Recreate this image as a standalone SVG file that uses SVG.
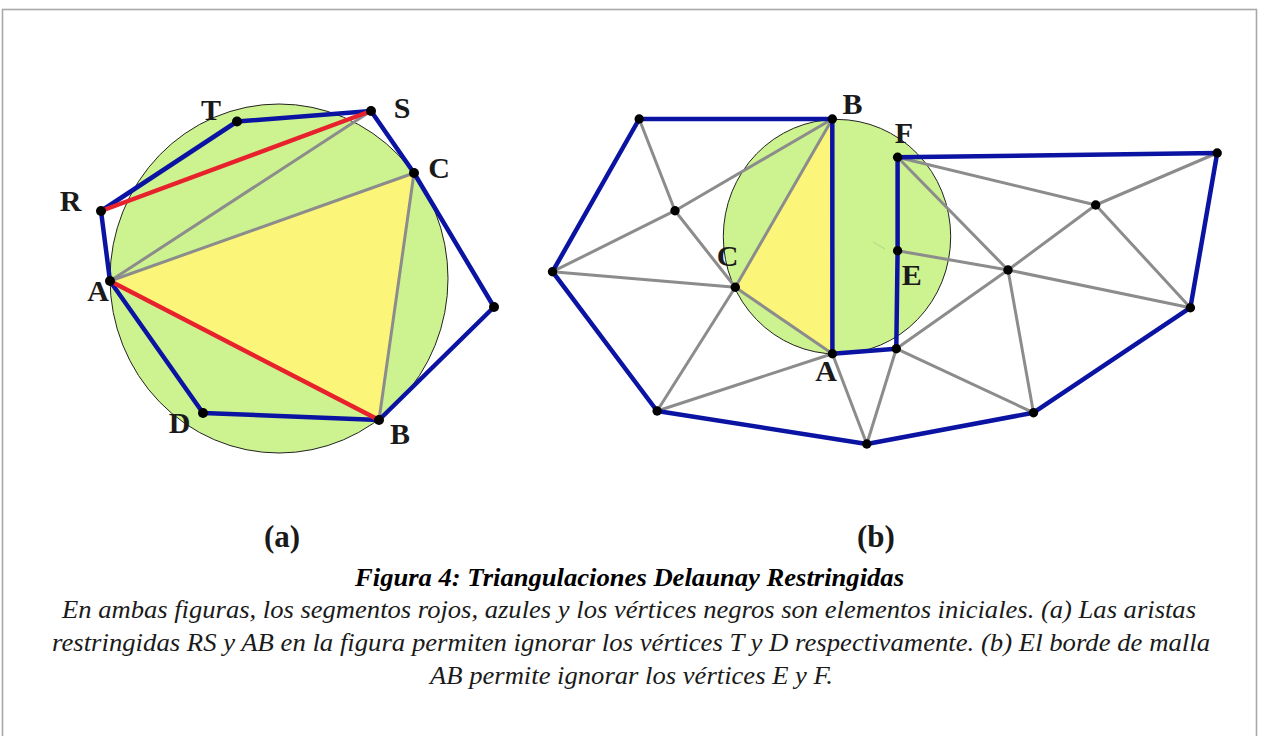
<svg xmlns="http://www.w3.org/2000/svg" width="1261" height="736" viewBox="0 0 1261 736">
<defs>
<style>
.frame{fill:#fff;stroke:#a8a8a8;stroke-width:1.6}
.disk{fill:#cdf290;stroke:#222;stroke-width:1}
.tri{fill:#fbf67a;stroke:none}
.g{stroke:#8c8c8c;stroke-width:3;fill:none;stroke-linecap:round}
.b{stroke:#0b14a2;stroke-width:4.5;fill:none;stroke-linejoin:round;stroke-linecap:round}
.r{stroke:#e8222c;stroke-width:4.5;fill:none;stroke-linecap:round}
.dot{fill:#000}
.lbl{font-family:"Liberation Serif","Times New Roman",serif;font-weight:bold;font-size:30px;fill:#1a1a1a;text-anchor:middle}
.sub{font-family:"Liberation Serif","Times New Roman",serif;font-weight:bold;font-size:31px;fill:#1a1a1a;text-anchor:middle}
.cap{font-family:"Liberation Serif","Times New Roman",serif;font-style:italic;font-size:26px;fill:#1a1a1a;text-anchor:middle}
.ttl{font-family:"Liberation Serif","Times New Roman",serif;font-style:italic;font-weight:bold;font-size:26px;fill:#000;text-anchor:middle}
</style>
</defs>
<rect class="frame" x="2.5" y="9.5" width="1254" height="740"/>

<!-- figure (a) background -->
<g id="fig-a-bg">
<ellipse class="disk" cx="279" cy="278.5" rx="169" ry="174.5"/>
<polygon class="tri" points="110,281 414,173 379,420"/>
</g>

<!-- figure (b) background -->
<g id="fig-b-bg">
<ellipse class="disk" cx="837" cy="236.7" rx="113.7" ry="117.3"/>
<polygon class="tri" points="832.3,119 735.3,287.3 832.4,353.7"/>
<line x1="873" y1="242" x2="885" y2="249" stroke="#b2d888" stroke-width="1"/>
</g>

<g id="connectors">
<!-- (a) -->
<line class="g" x1="110" y1="281" x2="371" y2="111"/>
<line class="g" x1="110" y1="281" x2="414" y2="173"/>
<line class="g" x1="414" y1="173" x2="379" y2="420"/>
<polyline class="b" points="101,211 237,121.5 371,111 414,173 494,307 379,420 203,413 110,281 101,211"/>
<line class="r" x1="101" y1="211" x2="371" y2="111"/>
<line class="r" x1="110" y1="281" x2="379" y2="420"/>
<!-- (b) gray -->
<line class="g" x1="639.2" y1="119" x2="675" y2="210.7"/>
<line class="g" x1="675" y1="210.7" x2="832.3" y2="119"/>
<line class="g" x1="675" y1="210.7" x2="552.5" y2="271.7"/>
<line class="g" x1="675" y1="210.7" x2="735.3" y2="287.3"/>
<line class="g" x1="832.3" y1="119" x2="735.3" y2="287.3"/>
<line class="g" x1="552.5" y1="271.7" x2="735.3" y2="287.3"/>
<line class="g" x1="735.3" y1="287.3" x2="832.4" y2="353.7"/>
<line class="g" x1="735.3" y1="287.3" x2="657.1" y2="411"/>
<line class="g" x1="657.1" y1="411" x2="832.4" y2="353.7"/>
<line class="g" x1="832.4" y1="353.7" x2="866.8" y2="444"/>
<line class="g" x1="896.3" y1="348.7" x2="866.8" y2="444"/>
<line class="g" x1="896.3" y1="348.7" x2="1033.5" y2="412.7"/>
<line class="g" x1="896.3" y1="348.7" x2="1008" y2="270"/>
<line class="g" x1="897.6" y1="250.7" x2="1008" y2="270"/>
<line class="g" x1="1008" y1="270" x2="1190.4" y2="307.7"/>
<line class="g" x1="897.6" y1="157.3" x2="1008" y2="270"/>
<line class="g" x1="897.6" y1="157.3" x2="1095.7" y2="205"/>
<line class="g" x1="1095.7" y1="205" x2="1217.2" y2="153"/>
<line class="g" x1="1095.7" y1="205" x2="1008" y2="270"/>
<line class="g" x1="1095.7" y1="205" x2="1190.4" y2="307.7"/>
<line class="g" x1="1008" y1="270" x2="1033.5" y2="412.7"/>
<!-- (b) blue -->
<polyline class="b" points="639.2,119 832.3,119 832.4,353.7 896.3,348.7 897.6,250.7 897.6,157.3 1217.2,153 1190.4,307.7 1033.5,412.7 866.8,444 657.1,411 552.5,271.7 639.2,119"/>
</g>

<!-- nodes (a) -->
<g id="a-T"><circle class="dot" cx="237" cy="121.5" r="5"/><text class="lbl" x="211" y="120">T</text></g>
<g id="a-S"><circle class="dot" cx="371" cy="111" r="5"/><text class="lbl" x="402" y="118">S</text></g>
<g id="a-C"><circle class="dot" cx="414" cy="173" r="5"/><text class="lbl" x="439" y="178">C</text></g>
<g id="a-R"><circle class="dot" cx="101" cy="211" r="5"/><text class="lbl" x="70.5" y="211">R</text></g>
<g id="a-A"><circle class="dot" cx="110" cy="281" r="5"/><text class="lbl" x="98" y="301">A</text></g>
<g id="a-P"><circle class="dot" cx="494" cy="307" r="5"/></g>
<g id="a-D"><circle class="dot" cx="203" cy="413" r="5"/><text class="lbl" x="179.5" y="433">D</text></g>
<g id="a-B"><circle class="dot" cx="379" cy="420" r="5"/><text class="lbl" x="400" y="444">B</text></g>

<!-- nodes (b) -->
<g id="b-P1"><circle class="dot" cx="639.2" cy="119" r="4.7"/></g>
<g id="b-B"><circle class="dot" cx="832.3" cy="119" r="4.7"/><text class="lbl" x="852.5" y="114">B</text></g>
<g id="b-F"><circle class="dot" cx="897.6" cy="157.3" r="4.7"/><text class="lbl" x="904" y="143">F</text></g>
<g id="b-P2"><circle class="dot" cx="1217.2" cy="153" r="4.7"/></g>
<g id="b-P3"><circle class="dot" cx="675" cy="210.7" r="4.7"/></g>
<g id="b-P4"><circle class="dot" cx="552.5" cy="271.7" r="4.7"/></g>
<g id="b-C"><circle class="dot" cx="735.3" cy="287.3" r="4.7"/><text class="lbl" x="727.5" y="266">C</text></g>
<g id="b-E"><circle class="dot" cx="897.6" cy="250.7" r="4.7"/><text class="lbl" x="911.7" y="285">E</text></g>
<g id="b-P5"><circle class="dot" cx="1008" cy="270" r="4.7"/></g>
<g id="b-P6"><circle class="dot" cx="1095.7" cy="205" r="4.7"/></g>
<g id="b-P7"><circle class="dot" cx="1190.4" cy="307.7" r="4.7"/></g>
<g id="b-A"><circle class="dot" cx="832.4" cy="353.7" r="4.7"/><text class="lbl" x="826" y="381">A</text></g>
<g id="b-G"><circle class="dot" cx="896.3" cy="348.7" r="4.7"/></g>
<g id="b-P8"><circle class="dot" cx="657.1" cy="411" r="4.7"/></g>
<g id="b-P9"><circle class="dot" cx="866.8" cy="444" r="4.7"/></g>
<g id="b-P10"><circle class="dot" cx="1033.5" cy="412.7" r="4.7"/></g>

<text class="sub" x="282" y="547">(a)</text>
<text class="sub" x="876" y="547">(b)</text>

<text class="ttl" x="629.5" y="586" textLength="549" lengthAdjust="spacingAndGlyphs">Figura 4: Triangulaciones Delaunay Restringidas</text>
<text class="cap" x="629" y="618" textLength="1134" lengthAdjust="spacingAndGlyphs">En ambas figuras, los segmentos rojos, azules y los vértices negros son elementos iniciales. (a) Las aristas</text>
<text class="cap" x="631" y="651" textLength="1158" lengthAdjust="spacingAndGlyphs">restringidas RS y AB en la figura permiten ignorar los vértices T y D respectivamente. (b) El borde de malla</text>
<text class="cap" x="631.5" y="684" textLength="403" lengthAdjust="spacingAndGlyphs">AB permite ignorar los vértices E y F.</text>
</svg>
